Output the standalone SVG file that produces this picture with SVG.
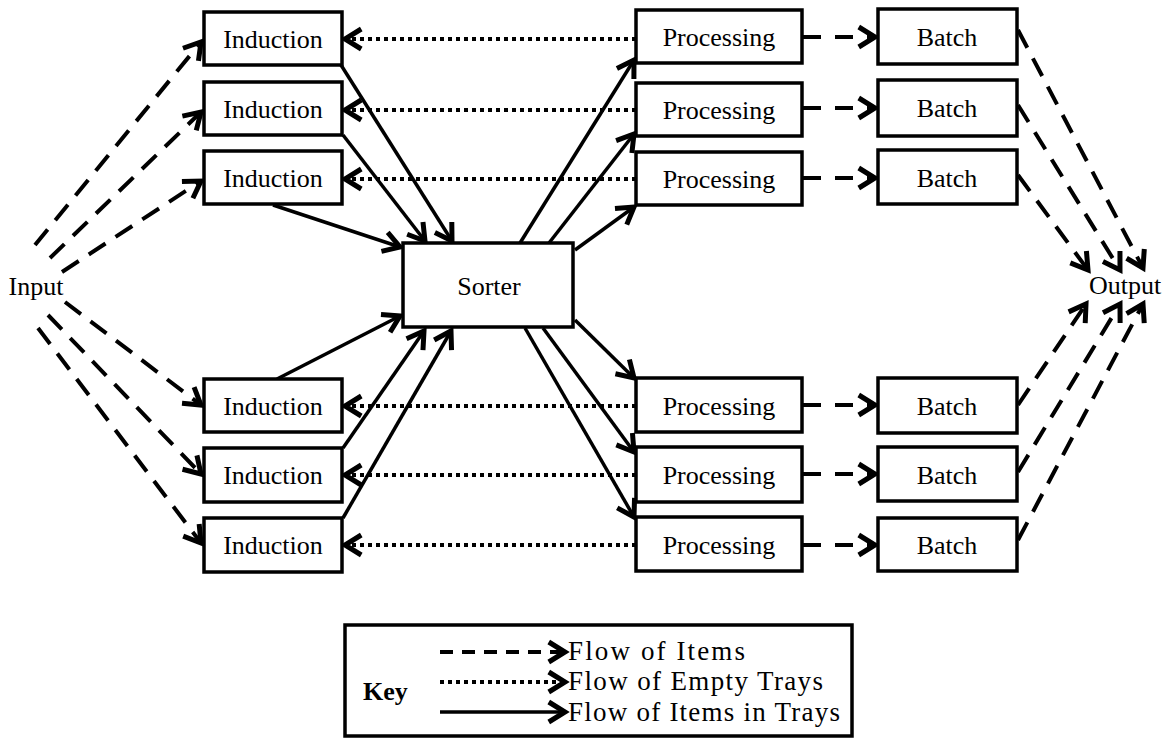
<svg xmlns="http://www.w3.org/2000/svg" width="1167" height="744" viewBox="0 0 1167 744">
  <style>
    .box { fill: #fff; stroke: #000; stroke-width: 3.5; }
    text { font-family: 'Liberation Serif', 'DejaVu Serif', serif; font-size: 26px; fill: #000; }
    .lbl { text-anchor: middle; }
    .leg { font-size: 27px; }
    .solid { fill: none; stroke: #000; stroke-width: 3.5; marker-end: url(#head); }
    .dash { fill: none; stroke: #000; stroke-width: 4; stroke-dasharray: 20 12; marker-end: url(#head); }
    .dot { fill: none; stroke: #000; stroke-width: 4; stroke-dasharray: 4 4; marker-end: url(#head); }
  </style>
  <defs>
    <marker id="head" markerUnits="userSpaceOnUse" markerWidth="30" markerHeight="30" viewBox="-16 -12 20 24" refX="0" refY="0" orient="auto" overflow="visible">
      <path d="M-13,-8 L0,0 L-13,8" fill="none" stroke="#000" stroke-width="4" stroke-dasharray="none" stroke-linejoin="miter"/>
    </marker>
  </defs>

  <rect width="1167" height="744" fill="#fff"/>

  <!-- connectors -->
  <g id="connectors">
    <!-- input to induction (items) -->
    <path class="dash" d="M35,245 L201,42"/>
    <path class="dash" d="M50,258 L201,112"/>
    <path class="dash" d="M62,272 L201,181"/>
    <path class="dash" d="M65,302 L201,405"/>
    <path class="dash" d="M48,315 L201,474"/>
    <path class="dash" d="M38,328 L201,543"/>

    <!-- empty trays returning from processing to induction -->
    <path class="dot" d="M636,39 L345,39"/>
    <path class="dot" d="M636,110 L345,110"/>
    <path class="dot" d="M636,179 L345,179"/>
    <path class="dot" d="M636,406 L345,406"/>
    <path class="dot" d="M636,475 L345,475"/>
    <path class="dot" d="M636,545 L345,545"/>

    <!-- induction to sorter (items in trays) -->
    <path class="solid" d="M341,65 L452,241"/>
    <path class="solid" d="M343,135 L425,241"/>
    <path class="solid" d="M273,205 L400,247"/>
    <path class="solid" d="M277,379 L400,316"/>
    <path class="solid" d="M343,448 L424,331"/>
    <path class="solid" d="M343,518 L451,331"/>

    <!-- sorter to processing -->
    <path class="solid" d="M520,243 L634,60"/>
    <path class="solid" d="M549,243 L634,134"/>
    <path class="solid" d="M575,250 L634,207"/>
    <path class="solid" d="M575,320 L634,378"/>
    <path class="solid" d="M543,328 L634,452"/>
    <path class="solid" d="M525,328 L634,517"/>

    <!-- processing to batch -->
    <path class="dash" d="M803,37 L875,37" style="stroke-dasharray:18 14"/>
    <path class="dash" d="M803,108 L875,108" style="stroke-dasharray:18 14"/>
    <path class="dash" d="M803,178 L875,178" style="stroke-dasharray:18 14"/>
    <path class="dash" d="M803,405 L875,405" style="stroke-dasharray:18 14"/>
    <path class="dash" d="M803,474 L875,474" style="stroke-dasharray:18 14"/>
    <path class="dash" d="M803,545 L875,545" style="stroke-dasharray:18 14"/>

    <!-- batch to output -->
    <path class="dash" d="M1018,30 L1143,268"/>
    <path class="dash" d="M1018,105 L1120,270"/>
    <path class="dash" d="M1018,175 L1088,270"/>
    <path class="dash" d="M1018,405 L1086,304"/>
    <path class="dash" d="M1018,472 L1120,304"/>
    <path class="dash" d="M1018,540 L1143,304"/>
  </g>

  <!-- end points -->
  <g id="input"><text class="lbl" x="36" y="295">Input</text></g>
  <g id="output"><text class="lbl" x="1125" y="294">Output</text></g>

  <!-- induction stations -->
  <g id="induction-1"><rect class="box" x="204" y="12" width="138" height="53"/><text class="lbl" x="273" y="48">Induction</text></g>
  <g id="induction-2"><rect class="box" x="204" y="82" width="138" height="53"/><text class="lbl" x="273" y="118">Induction</text></g>
  <g id="induction-3"><rect class="box" x="204" y="151" width="138" height="53"/><text class="lbl" x="273" y="187">Induction</text></g>
  <g id="induction-4"><rect class="box" x="204" y="379" width="138" height="53"/><text class="lbl" x="273" y="415">Induction</text></g>
  <g id="induction-5"><rect class="box" x="204" y="448" width="138" height="54"/><text class="lbl" x="273" y="484">Induction</text></g>
  <g id="induction-6"><rect class="box" x="204" y="518" width="138" height="54"/><text class="lbl" x="273" y="554">Induction</text></g>

  <!-- sorter -->
  <g id="sorter"><rect class="box" x="403" y="243" width="170" height="84"/><text class="lbl" x="489" y="295">Sorter</text></g>

  <!-- processing stations -->
  <g id="processing-1"><rect class="box" x="636" y="10" width="166" height="53"/><text class="lbl" x="719" y="46">Processing</text></g>
  <g id="processing-2"><rect class="box" x="636" y="83" width="166" height="53"/><text class="lbl" x="719" y="119">Processing</text></g>
  <g id="processing-3"><rect class="box" x="636" y="152" width="166" height="53"/><text class="lbl" x="719" y="188">Processing</text></g>
  <g id="processing-4"><rect class="box" x="636" y="378" width="166" height="54"/><text class="lbl" x="719" y="415">Processing</text></g>
  <g id="processing-5"><rect class="box" x="636" y="447" width="166" height="55"/><text class="lbl" x="719" y="484">Processing</text></g>
  <g id="processing-6"><rect class="box" x="636" y="517" width="166" height="54"/><text class="lbl" x="719" y="554">Processing</text></g>

  <!-- batch stations -->
  <g id="batch-1"><rect class="box" x="878" y="9" width="139" height="55"/><text class="lbl" x="947" y="46">Batch</text></g>
  <g id="batch-2"><rect class="box" x="878" y="80" width="139" height="56"/><text class="lbl" x="947" y="117">Batch</text></g>
  <g id="batch-3"><rect class="box" x="878" y="150" width="139" height="54"/><text class="lbl" x="947" y="187">Batch</text></g>
  <g id="batch-4"><rect class="box" x="878" y="378" width="139" height="55"/><text class="lbl" x="947" y="415">Batch</text></g>
  <g id="batch-5"><rect class="box" x="878" y="447" width="139" height="54"/><text class="lbl" x="947" y="484">Batch</text></g>
  <g id="batch-6"><rect class="box" x="878" y="518" width="139" height="53"/><text class="lbl" x="947" y="554">Batch</text></g>

  <!-- key -->
  <g id="key">
    <rect class="box" x="345" y="625" width="507" height="111"/>
    <text x="363" y="700" font-weight="bold">Key</text>
    <path class="dash" d="M440,652 L565,652" style="stroke-dasharray:13 9"/>
    <path class="dot" d="M440,682 L565,682"/>
    <path class="solid" d="M440,712 L565,712"/>
    <text class="leg" x="568" y="660" textLength="177" lengthAdjust="spacing">Flow of Items</text>
    <text class="leg" x="568" y="690" textLength="255" lengthAdjust="spacing">Flow of Empty Trays</text>
    <text class="leg" x="568" y="721" textLength="272" lengthAdjust="spacing">Flow of Items in Trays</text>
  </g>
</svg>
